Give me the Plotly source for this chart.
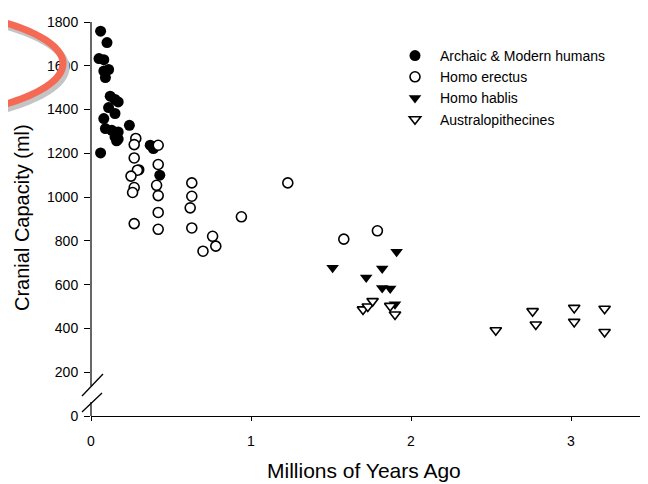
import numpy as np
import plotly.graph_objects as go

# ---------------- data ----------------
modern_x = [0.06, 0.10, 0.05, 0.08, 0.11, 0.08, 0.09, 0.12, 0.15, 0.17, 0.11, 0.15,
            0.08, 0.09, 0.13, 0.17, 0.15, 0.16, 0.17, 0.24, 0.06, 0.37, 0.39, 0.30, 0.43]
modern_y = [1758, 1706, 1633, 1628, 1583, 1576, 1546, 1461, 1446, 1435, 1409, 1382,
            1359, 1313, 1305, 1298, 1275, 1257, 1265, 1328, 1202, 1237, 1222, 1125, 1100]

erectus_x = [0.28, 0.27, 0.27, 0.29, 0.25, 0.27, 0.26, 0.27, 0.42, 0.42, 0.41, 0.42,
             0.42, 0.42, 0.63, 0.63, 0.62, 0.63, 0.76, 0.78, 0.70, 0.94, 1.23, 1.58, 1.79]
erectus_y = [1268, 1240, 1179, 1123, 1096, 1044, 1021, 879, 1237, 1149, 1054, 1007,
             930, 853, 1065, 1004, 951, 859, 821, 776, 753, 910, 1065, 808, 846]

habilis_x = [1.91, 1.51, 1.82, 1.72, 1.82, 1.87, 1.90]
habilis_y = [750, 677, 674, 633, 585, 583, 510]

austral_x = [1.70, 1.73, 1.76, 1.87, 1.90, 2.53, 2.76, 2.78, 3.02, 3.02, 3.21, 3.21]
austral_y = [487, 500, 525, 503, 464, 392, 479, 418, 494, 430, 490, 384]

y_ticks = [0, 200, 400, 600, 800, 1000, 1200, 1400, 1600, 1800]
x_ticks = [0, 1, 2, 3]

FONT = "Liberation Sans, Arial, Helvetica, sans-serif"

# ---------------- layout geometry ----------------
# The page body has an 8px margin, so the figure is drawn 8px in from the
# window's corner; reference pixel coordinates are converted accordingly.
OFF = 8
W, H = 648 - OFF, 484 - OFF
ML, MT = 91 - OFF, 22 - OFF          # plot area left/top in figure pixels
PR, PB = 645 - OFF, 416 - OFF        # plot area right/bottom in figure pixels
MR, MB = W - PR, H - PB
PW, PH = PR - ML, PB - MT


def px2paper(px, py):
    """reference-window pixel -> paper coordinates"""
    fx, fy = px - OFF, py - OFF
    return (fx - ML) / PW, (PB - fy) / PH


fig = go.Figure()

fig.add_trace(go.Scatter(
    x=modern_x, y=modern_y, mode="markers", name="Archaic & Modern humans",
    marker=dict(symbol="circle", size=11, color="black", line=dict(width=0))))
fig.add_trace(go.Scatter(
    x=erectus_x, y=erectus_y, mode="markers", name="Homo erectus",
    marker=dict(symbol="circle", size=10, color="white", line=dict(width=1.6, color="black"))))
fig.add_trace(go.Scatter(
    x=habilis_x, y=habilis_y, mode="markers", name="Homo hablis",
    marker=dict(symbol="triangle-down", size=11, color="black", line=dict(width=0))))
fig.add_trace(go.Scatter(
    x=austral_x, y=austral_y, mode="markers", name="Australopithecines",
    marker=dict(symbol="triangle-down", size=10, color="white", line=dict(width=1.6, color="black"))))

shapes = []


def seg(p1, p2, width=1.2, color="black"):
    x0, y0 = px2paper(*p1)
    x1, y1 = px2paper(*p2)
    return dict(type="line", xref="paper", yref="paper", x0=x0, y0=y0, x1=x1, y1=y1,
                line=dict(color=color, width=width), layer="above")


# y axis line with a break
shapes.append(seg((91, 22), (91, 386)))
shapes.append(seg((91, 402), (91, 416)))
# break slashes
shapes.append(seg((82, 396), (103, 374), width=1.3))
shapes.append(seg((82, 412), (102, 393), width=1.3))

# red arc mark (part of an ellipse) with grey shadow
cx, cy, rx, ry = -171, 63.5, 234, 62
t = np.linspace(-0.95, 0.95, 80)
ex = cx + rx * np.cos(t)
ey = cy + ry * np.sin(t)


def path_from(pxs, pys):
    pts = [px2paper(a, b) for a, b in zip(pxs, pys)]
    return "M " + " L ".join(f"{a:.5f},{b:.5f}" for a, b in pts)


shapes.append(dict(type="path", xref="paper", yref="paper", path=path_from(ex + 3, ey + 4),
                   line=dict(color="#c4c4c4", width=7), layer="above"))
shapes.append(dict(type="path", xref="paper", yref="paper", path=path_from(ex, ey),
                   line=dict(color="#f46a55", width=7), layer="above"))

xt_x, xt_y = px2paper(364, 470)
yt_x, yt_y = px2paper(22, 218)
lg_x, _ = px2paper(390, 0)
_, lg_y = px2paper(0, 40)

fig.update_layout(
    width=W, height=H,
    margin=dict(l=ML, r=MR, t=MT, b=MB, autoexpand=False),
    paper_bgcolor="white", plot_bgcolor="white",
    font=dict(family=FONT, color="black", size=14),
    shapes=shapes,
    showlegend=True,
    legend=dict(x=lg_x, y=lg_y, xanchor="left", yanchor="top",
                font=dict(size=14, family=FONT, color="black"),
                bgcolor="rgba(0,0,0,0)", borderwidth=0, tracegroupgap=0,
                itemwidth=40),
    annotations=[
        dict(text="Millions of Years Ago", x=xt_x, y=xt_y, xref="paper", yref="paper",
             showarrow=False, xanchor="center", yanchor="middle",
             font=dict(size=21, family=FONT, color="black")),
        dict(text="Cranial Capacity (ml)", x=yt_x, y=yt_y, xref="paper", yref="paper",
             showarrow=False, xanchor="center", yanchor="middle", textangle=-90,
             font=dict(size=20, family=FONT, color="black")),
    ],
)

fig.update_xaxes(range=[0, PW / 160.0], tickvals=x_ticks, ticktext=[str(v) for v in x_ticks],
                 showline=True, linecolor="black", linewidth=1.2, ticks="outside",
                 ticklen=4, tickcolor="black", showgrid=False, zeroline=False,
                 tickfont=dict(size=14, family=FONT), ticklabelstandoff=8)
fig.update_yaxes(range=[0, 1800], tickvals=y_ticks, ticktext=[str(v) for v in y_ticks],
                 showline=False, ticks="outside", ticklen=6, tickcolor="black",
                 showgrid=False, zeroline=False, tickfont=dict(size=14, family=FONT),
                 ticklabelstandoff=3)

fig.write_html("out.html")
